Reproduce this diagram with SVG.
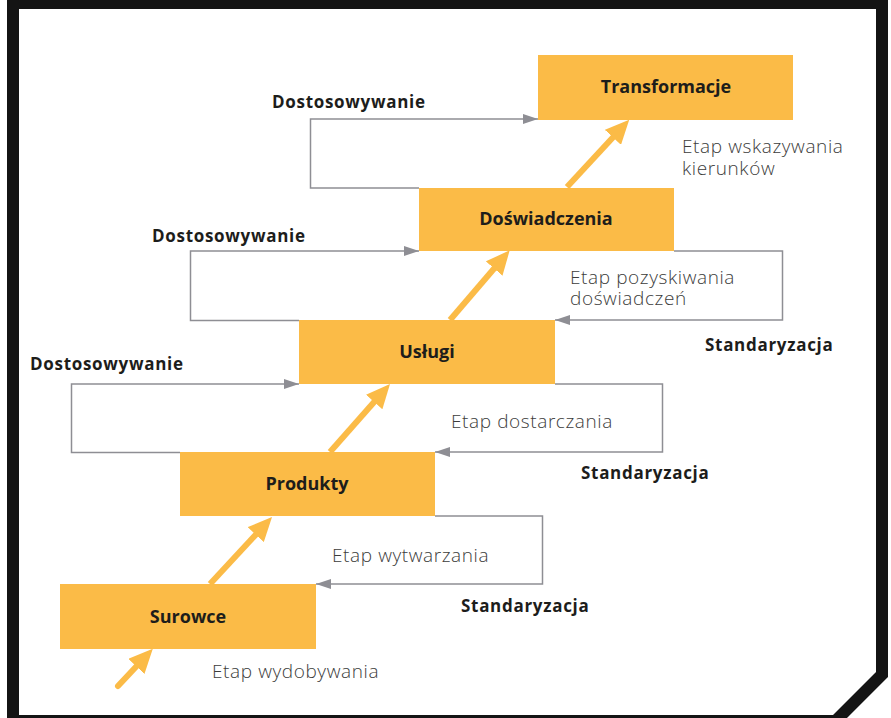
<svg xmlns="http://www.w3.org/2000/svg" width="891" height="718" viewBox="0 0 891 718">
<style>
.box{fill:#FBBB47;}
.title{font-family:"Open Sans","Liberation Sans",sans-serif;font-weight:700;font-size:18px;fill:#1d1d1b;text-anchor:middle;}
.lbl{font-family:"Open Sans","Liberation Sans",sans-serif;font-weight:700;font-size:17px;letter-spacing:0.7px;fill:#1d1d1b;}
.stage{font-family:"Open Sans","Liberation Sans",sans-serif;font-weight:300;font-size:19px;letter-spacing:0.6px;fill:#3c3c3b;}
.conn{fill:none;stroke:#8E8E94;stroke-width:1.5;}
.up{fill:none;stroke:#FBBB47;stroke-width:6;}
</style>
<defs>
<marker id="ga" markerUnits="userSpaceOnUse" markerWidth="15" markerHeight="10" refX="15" refY="5" orient="auto">
<path d="M0,0 L15,5 L0,10 Z" fill="#8E8E94"/>
</marker>
<marker id="oa" markerUnits="userSpaceOnUse" markerWidth="24" markerHeight="22" refX="6" refY="11" orient="auto">
<path d="M0,0 L24,11 L0,22 Z" fill="#FBBB47"/>
</marker>
</defs>
<rect x="0" y="0" width="891" height="718" fill="#ffffff"/>
<path d="M13,3 H882 V674.5 L835.5,721 H13 Z" fill="#ffffff" stroke="#141414" stroke-width="12"/>

<g id="connectors">
<path class="conn" d="M419,188 H310.5 V119 H538" marker-end="url(#ga)"/>
<path class="conn" d="M299,320.5 H190.5 V251 H419" marker-end="url(#ga)"/>
<path class="conn" d="M180,452.5 H71.5 V384 H299" marker-end="url(#ga)"/>
<path class="conn" d="M435,516 H542.5 V584 H316" marker-end="url(#ga)"/>
<path class="conn" d="M555,384 H662.5 V452 H435" marker-end="url(#ga)"/>
<path class="conn" d="M674,251 H782.5 V320 H555" marker-end="url(#ga)"/>
<line class="up" x1="118" y1="686" x2="140.5" y2="662" stroke-linecap="round" marker-end="url(#oa)"/>
<line class="up" x1="210" y1="584" x2="259.8" y2="530.2" marker-end="url(#oa)"/>
<line class="up" x1="330" y1="452" x2="378.1" y2="397.5" marker-end="url(#oa)"/>
<line class="up" x1="450" y1="320" x2="498" y2="264" marker-end="url(#oa)"/>
<line class="up" x1="567" y1="187" x2="617" y2="133" marker-end="url(#oa)"/>
</g>

<g id="surowce">
<rect class="box" x="60" y="584" width="256" height="65"/>
<text class="title" x="188" y="623">Surowce</text>
</g>
<g id="produkty">
<rect class="box" x="180" y="452" width="255" height="64"/>
<text class="title" x="307" y="490">Produkty</text>
</g>
<g id="uslugi">
<rect class="box" x="299" y="320" width="256" height="64"/>
<text class="title" x="427" y="358">Usługi</text>
</g>
<g id="doswiadczenia">
<rect class="box" x="419" y="188" width="255" height="63"/>
<text class="title" x="546" y="225">Doświadczenia</text>
</g>
<g id="transformacje">
<rect class="box" x="538" y="55" width="255" height="65"/>
<text class="title" x="666" y="93">Transformacje</text>
</g>

<g id="labels">
<text class="lbl" x="272" y="108">Dostosowywanie</text>
<text class="lbl" x="152" y="242">Dostosowywanie</text>
<text class="lbl" x="30" y="370">Dostosowywanie</text>
<text class="lbl" x="705" y="351">Standaryzacja</text>
<text class="lbl" x="581" y="479">Standaryzacja</text>
<text class="lbl" x="461" y="612">Standaryzacja</text>
<text class="stage" x="682" y="153">Etap wskazywania<tspan x="682" dy="22">kierunków</tspan></text>
<text class="stage" x="570" y="284">Etap pozyskiwania<tspan x="570" dy="21">doświadczeń</tspan></text>
<text class="stage" x="451" y="428">Etap dostarczania</text>
<text class="stage" x="332" y="562">Etap wytwarzania</text>
<text class="stage" x="212" y="678">Etap wydobywania</text>
</g>
</svg>
